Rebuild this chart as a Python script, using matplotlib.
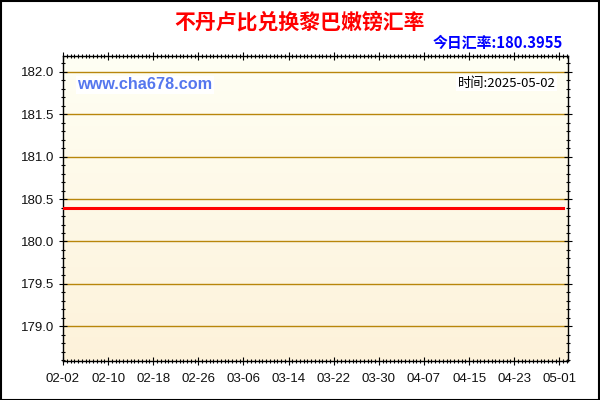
import matplotlib.pyplot as plt
import numpy as np
from matplotlib.ticker import MultipleLocator

plt.rcParams['font.family'] = ['Noto Sans CJK SC', 'DejaVu Sans']

# x axis is point index; labels every 12 points
tick_labels = ['02-02', '02-10', '02-18', '02-26', '03-06', '03-14',
               '03-22', '03-30', '04-07', '04-15', '04-23', '05-01']
n_points = 134
rates = [180.3955] * n_points  # flat all period
today_rate = '180.3955'
today = '2025-05-02'

fig = plt.figure(figsize=(6, 4), dpi=100)
fig.patch.set_facecolor('white')
# outer black border
fig.add_artist(plt.Rectangle((0.001, 0.001), 0.998, 0.996, transform=fig.transFigure,
                             fill=False, edgecolor='black', linewidth=1.5))

ax = fig.add_axes([0.105, 0.0975, 0.841, 0.763])
xmax = 134.2
ymin, ymax = 178.59, 182.19
ax.set_xlim(0, xmax)
ax.set_ylim(ymin, ymax)

# gradient background
grad = np.linspace(0, 1, 256).reshape(-1, 1)
top = np.array([255, 255, 244]) / 255
bot = np.array([253, 242, 218]) / 255
img = top + (bot - top) * grad[:, :, None]
ax.imshow(img, extent=[0, xmax, ymin, ymax], aspect='auto', origin='upper', zorder=0)

for y in np.arange(179.0, 182.01, 0.5):
    ax.axhline(y, color='#B8860B', linewidth=1, zorder=1)

x = np.arange(n_points)
ax.plot(x, rates, color='#FF0000', linewidth=2.2, zorder=3)

ax.set_xticks(np.arange(len(tick_labels)) * 12)
ax.set_xticklabels(tick_labels)
ax.xaxis.set_minor_locator(MultipleLocator(1))
ax.set_yticks(np.arange(179.0, 182.01, 0.5))
ax.set_yticklabels(['%.1f' % v for v in np.arange(179.0, 182.01, 0.5)])
ax.yaxis.set_minor_locator(MultipleLocator(0.1))

ax.tick_params(axis='both', which='major', direction='inout', length=6, width=0.8,
               labelsize=9.5, top=True, right=True, labelcolor='#111111')
ax.tick_params(axis='x', which='major', pad=6)
ax.tick_params(axis='both', which='minor', direction='inout', length=3, width=0.8,
               top=True, right=True)
for lbl in ax.get_xticklabels() + ax.get_yticklabels():
    lbl.set_fontfamily(['Liberation Sans', 'DejaVu Sans'])
for s in ax.spines.values():
    s.set_linewidth(1)
    s.set_color('black')

fig.text(0.5, 0.945, '不丹卢比兑换黎巴嫩镑汇率', color='#FF0000', fontsize=15,
         fontweight='bold', ha='center', va='center')
fig.text(0.938, 0.893, '今日汇率:' + today_rate, color='#0000FF', fontsize=10.7,
         fontweight='bold', ha='right', va='center')
ax.text(0.028, 0.905, 'www.cha678.com', transform=ax.transAxes, color='#5577EE',
        fontsize=11.7, fontweight='bold', ha='left', va='center',
        family=['Liberation Sans', 'DejaVu Sans'],
        bbox=dict(facecolor='white', edgecolor='none', pad=1))
ax.text(0.976, 0.91, '时间:' + today, transform=ax.transAxes, color='black',
        fontsize=9.5, ha='right', va='center',
        bbox=dict(facecolor='white', edgecolor='none', pad=1))

fig.savefig('out.png', dpi=100)
